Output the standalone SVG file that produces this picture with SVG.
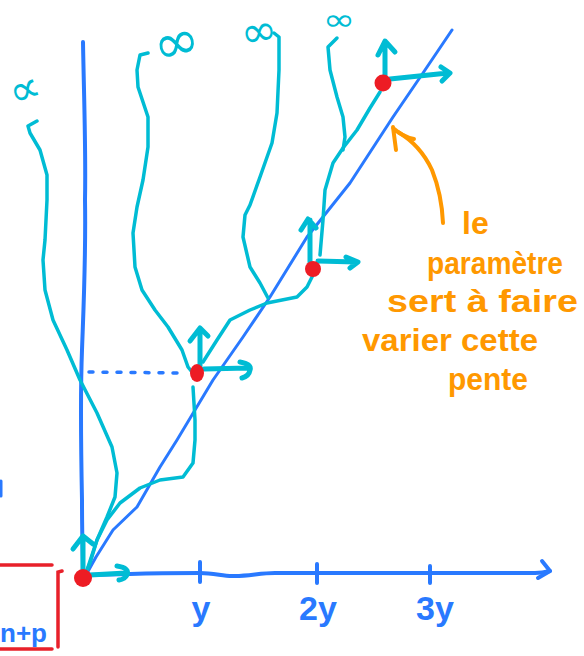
<svg xmlns="http://www.w3.org/2000/svg" width="584" height="656" viewBox="0 0 584 656">
<style>
.bl{fill:none;stroke:#2979ff;stroke-linecap:round;stroke-linejoin:round}
.cy{fill:none;stroke:#00bcd4;stroke-width:3.5;stroke-linecap:round;stroke-linejoin:round}
.ar{fill:none;stroke:#00bcd4;stroke-width:5;stroke-linecap:round;stroke-linejoin:round}
.dot{fill:#ed1c24}
.or{fill:none;stroke:#ff9800;stroke-width:4;stroke-linecap:round;stroke-linejoin:round}
.rd{fill:none;stroke:#e8202a;stroke-width:3.5;stroke-linecap:round}
.lb{font-family:"Liberation Sans",Arial,sans-serif;fill:#2979ff;font-weight:bold}
.ot{font-family:"Liberation Sans",Arial,sans-serif;fill:#ff9800;font-size:32px;font-weight:bold}
.inf{font-family:"DejaVu Sans",sans-serif;fill:#00bcd4}
</style>
<rect width="584" height="656" fill="#ffffff"/>
<g id="axes">
<path class="bl" stroke-width="4" d="M83,42 C84,100 86,150 85,200 C86,260 83,320 82,350 C80,400 81,450 82,500 C82,540 83,560 83,575"/>
<path class="bl" stroke-width="4" d="M86,575 L130,574 C160,573 180,573 200,573 C215,573 225,577 235,576 C250,576 260,573 275,573 L400,573 L535,573 C542,573 546,572 550,571"/>
<path class="bl" stroke-width="4" d="M542,561 L550,571 L538,578"/>
<path class="bl" stroke-width="4" d="M200,562 V582 M317,564 V583 M430,566 V583"/>
<path class="bl" stroke-width="3" d="M86,575 L96,557 L113,530 L137,507 L160,467 L177,440 L207,390 L213,380 L243,337 L270,297 L307,237 L350,183 L393,117 L423,73 L452,30"/>
<path class="bl" stroke-width="3.5" stroke-dasharray="4 10" d="M89,372 L180,373"/>
<path class="bl" stroke-width="3" d="M1,481 V496"/>
</g>
<g id="trajectories">
<path class="cy" d="M37,121 L28,126 L30,133 L40,150 L47,175 L47,200 L45,240 L43,260 L45,290 L53,320 L67,350 L80,380 L97,413 L112,447 L117,473 L115,497 L107,517 L97,540 L90,563 L86,573"/>
<path class="cy" d="M148,53 L140,55 L137,70 L138,87 L148,117 L148,147 L143,180 L137,207 L133,233 L135,267 L142,290 L155,310 L168,327 L182,350 L188,367 L192,372"/>
<path class="cy" d="M86,573 L92,555 L97,540 L107,520 L120,503 L140,488 L160,480 L183,477 L193,463 L195,440 L195,420 L193,387"/>
<path class="cy" d="M203,362 L217,340 L230,320 L250,310 L267,303 L297,297 L307,287 L313,275"/>
<path class="cy" d="M274,33 L279,37 L279,70 L277,113 L272,143 L260,177 L250,205 L245,215 L243,237 L250,267 L260,283 L268,298"/>
<path class="cy" d="M337,38 L328,47 L330,70 L337,97 L343,117 L345,137 L343,150"/>
<path class="cy" d="M320,255 L323,220 L325,190 L333,163 L343,148 L357,130 L370,108 L380,92"/>
<text class="inf" x="25" y="104" font-size="44" text-anchor="middle" transform="rotate(-20 25 91)">∝</text>
<text class="inf" x="177" y="61" font-size="56" text-anchor="middle" transform="rotate(-15 177 45)">∞</text>
<text class="inf" x="259" y="46" font-size="44" text-anchor="middle" transform="rotate(-10 259 33)">∞</text>
<text class="inf" x="339" y="30" font-size="30" text-anchor="middle" transform="translate(339 0) scale(1.3 1) translate(-339 0)">∞</text>
</g>
<g id="arrows">
<path class="ar" d="M83,570 L83,537 M73,549 L83,536 L93,544"/>
<path class="ar" d="M90,575 L126,573 M117,566 Q130,568 127,575 Q125,579 119,580"/>
<path class="ar" d="M200,366 L200,330 M190,341 L200,328 L208,336"/>
<path class="ar" d="M204,369 L248,368 M240,362 Q252,364 250,370 Q249,376 242,378"/>
<path class="ar" d="M310,262 L310,220 M301,230 L308,219 L316,228"/>
<path class="ar" d="M318,261 L356,262 M346,257 L358,262 L350,268"/>
<path class="ar" d="M385,78 L385,42 M378,55 L385,41 L395,52"/>
<path class="ar" d="M390,79 L448,73 M441,67 L450,73 L442,81"/>
</g>
<g id="points">
<circle class="dot" cx="83" cy="578" r="9"/>
<ellipse class="dot" cx="197" cy="373" rx="7" ry="9"/>
<circle class="dot" cx="313" cy="269" r="8"/>
<circle class="dot" cx="383" cy="83" r="8.5"/>
</g>
<g id="axis-labels">
<text class="lb" x="201" y="620" font-size="34" text-anchor="middle">y</text>
<text class="lb" x="318" y="620" font-size="34" text-anchor="middle">2y</text>
<text class="lb" x="435" y="620" font-size="34" text-anchor="middle">3y</text>
</g>
<g id="annotation">
<path class="or" d="M443,223 C442,200 438,185 432,170 C425,155 415,142 398,132"/>
<path class="or" d="M393,127 L396,150 M393,128 Q403,137 414,139"/>
<text class="ot" x="462" y="234" font-size="36">le</text>
<text class="ot" x="427" y="274" textLength="136" lengthAdjust="spacingAndGlyphs">paramètre</text>
<text class="ot" x="387" y="312" textLength="191" lengthAdjust="spacingAndGlyphs">sert à faire</text>
<text class="ot" x="362" y="351" textLength="176" lengthAdjust="spacingAndGlyphs">varier cette</text>
<text class="ot" x="448" y="390" textLength="80" lengthAdjust="spacingAndGlyphs">pente</text>
</g>
<g id="bracket">
<path class="rd" d="M0,565 L52,565 M0,649 L52,649 M62,571 L58,572 L58,647"/>
<text class="lb" x="0" y="642" font-size="26">n+p</text>
</g>
</svg>
